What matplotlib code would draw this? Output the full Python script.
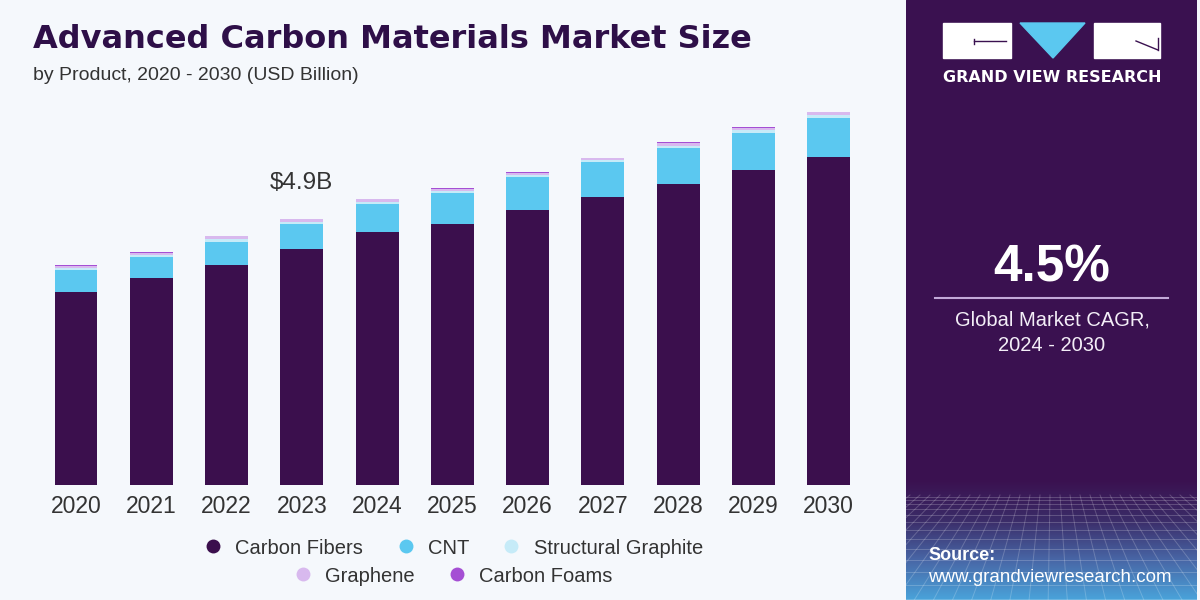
import numpy as np
import matplotlib

matplotlib.use("Agg")
import matplotlib.pyplot as plt
from matplotlib.colors import LinearSegmentedColormap
from matplotlib.lines import Line2D
from matplotlib.patches import Polygon, Rectangle

plt.rcParams["font.family"] = ["Liberation Sans", "DejaVu Sans"]

# values (USD billion)
YEARS = ["2020", "2021", "2022", "2023", "2024", "2025", "2026", "2027", "2028", "2029", "2030"]
SEGMENTS = ["Carbon Fibers", "CNT", "Structural Graphite", "Graphene", "Carbon Foams"]
CARBON_FIBERS = [3.56, 3.81, 4.05, 4.35, 4.66, 4.81, 5.06, 5.30, 5.54, 5.80, 6.04]
CNT = [0.40, 0.39, 0.43, 0.46, 0.52, 0.57, 0.61, 0.64, 0.66, 0.68, 0.72]
STRUCTURAL_GRAPHITE = [0.04, 0.04, 0.05, 0.04, 0.04, 0.04, 0.04, 0.04, 0.05, 0.05, 0.05]
GRAPHENE = [0.04, 0.04, 0.05, 0.04, 0.04, 0.04, 0.04, 0.04, 0.05, 0.05, 0.05]
CARBON_FOAMS = [0.01, 0.01, 0.01, 0.01, 0.01, 0.01, 0.01, 0.01, 0.01, 0.01, 0.01]
COLORS = ["#3b0f4d", "#5bc8f0", "#c6ebf8", "#d8b9ee", "#a54fd4"]

HIGHLIGHT_YEAR = "2023"
HIGHLIGHT_LABEL = "$4.9B"
CAGR = "4.5%"
CAGR_TEXT = "Global Market CAGR,\n2024 - 2030"

BG = "#f5f8fc"
PANEL = "#3a1150"
TITLE_COLOR = "#2e0f48"
TEXT_COLOR = "#333333"

fig = plt.figure(figsize=(12, 6), dpi=100, facecolor=BG)

# ---- main bar chart ----
ax = fig.add_axes([38.4 / 1200, 115 / 600, 828 / 1200, 385 / 600])
ax.set_facecolor(BG)
x = np.arange(len(YEARS))
bottom = np.zeros(len(YEARS))
for values, color in zip(
    [CARBON_FIBERS, CNT, STRUCTURAL_GRAPHITE, GRAPHENE, CARBON_FOAMS], COLORS, strict=True
):
    ax.bar(x, values, bottom=bottom, width=0.57, color=color, linewidth=0)
    bottom += np.array(values)

ax.set_xlim(-0.5, len(YEARS) - 0.5)
ax.set_ylim(0, 7.09)
ax.set_xticks(x)
ax.set_xticklabels(YEARS, fontsize=16.5, color=TEXT_COLOR)
ax.tick_params(axis="x", length=0, pad=7)
ax.set_yticks([])
for spine in ax.spines.values():
    spine.set_visible(False)

hi = YEARS.index(HIGHLIGHT_YEAR)
ax.annotate(
    HIGHLIGHT_LABEL,
    (x[hi], bottom[hi]),
    xytext=(0, 26),
    textcoords="offset points",
    ha="center",
    va="center",
    fontsize=17.5,
    color=TEXT_COLOR,
)

fig.text(33 / 1200, 1 - 40 / 600, "Advanced Carbon Materials Market Size", fontsize=23,
         fontweight="heavy", family="DejaVu Sans", color=TITLE_COLOR, va="center")
fig.text(33 / 1200, 1 - 76 / 600, "by Product, 2020 - 2030 (USD Billion)", fontsize=14,
         color=TEXT_COLOR, va="center")

handles = [
    Line2D([], [], marker="o", linestyle="none", markersize=10, markerfacecolor=c, markeredgewidth=0)
    for c in COLORS
]
kw = dict(frameon=False, fontsize=14.5, handlelength=1.2, handletextpad=0.5, columnspacing=1.5,
          labelcolor=TEXT_COLOR, loc="center")
fig.legend(handles[:3], SEGMENTS[:3], ncol=3, bbox_to_anchor=(452 / 1200, 1 - 548 / 600), **kw)
fig.legend(handles[3:], SEGMENTS[3:], ncol=2, bbox_to_anchor=(452 / 1200, 1 - 576 / 600), **kw)

# ---- right panel ----
pax = fig.add_axes([906 / 1200, 0, 291 / 1200, 1])
pax.set_xlim(906, 1197)
pax.set_ylim(600, 0)
pax.axis("off")
pax.add_patch(Rectangle((906, 0), 291, 600, color=PANEL, zorder=0))

cmap = LinearSegmentedColormap.from_list("floor", [PANEL, "#3b2c68", "#4866a6", "#4aa3da"])
grad = np.linspace(0, 1, 200).reshape(-1, 1)
pax.imshow(grad, cmap=cmap, extent=(906, 1197, 600, 480), aspect="auto", zorder=1)

# perspective floor grid
for gy in [497, 500, 504, 509, 515, 522, 530, 539, 549, 560, 572, 585, 599]:
    pax.plot([906, 1197], [gy, gy], color="white", alpha=0.2, lw=0.7, zorder=2)
vx, vy = 1052, 380
for gx in np.arange(830, 1280, 10):
    t = (600 - vy) / (495 - vy)
    pax.plot([gx, vx + (gx - vx) * t], [495, 600], color="white", alpha=0.2, lw=0.7, zorder=2)

# logo
pax.add_patch(Rectangle((943, 23), 68, 35, color="white", zorder=3))
pax.plot([974, 1006], [41, 41], color=PANEL, lw=1, zorder=4)
pax.plot([974, 974], [39, 44], color=PANEL, lw=1, zorder=4)
pax.add_patch(Polygon([(1020, 23), (1085, 23), (1053, 58)], color="#5bc8f0", zorder=3))
pax.add_patch(Rectangle((1094, 23), 66, 35, color="white", zorder=3))
pax.plot([1136, 1158], [41, 50], color=PANEL, lw=1, zorder=4)
pax.plot([1158, 1158], [38, 50], color=PANEL, lw=1, zorder=4)
pax.text(1052, 78, "GRAND VIEW RESEARCH", ha="center", va="center", fontsize=11.5,
         fontweight="bold", family="DejaVu Sans", color="white", zorder=4)

pax.text(1052, 268, CAGR, ha="center", va="center", fontsize=37, fontweight="bold", color="white", zorder=4)
pax.plot([935, 1168], [298, 298], color="#c2a9d8", lw=1.5, zorder=4)
pax.text(1052, 333, CAGR_TEXT, ha="center", va="center", fontsize=14.5, color="#f3eef7",
         linespacing=1.45, zorder=4)

pax.text(928, 555, "Source:", ha="left", va="center", fontsize=13, fontweight="bold", color="white", zorder=4)
pax.text(928, 577, "www.grandviewresearch.com", ha="left", va="center", fontsize=13.5, color="white", zorder=4)

fig.savefig("out.png", dpi=100, facecolor=BG)
